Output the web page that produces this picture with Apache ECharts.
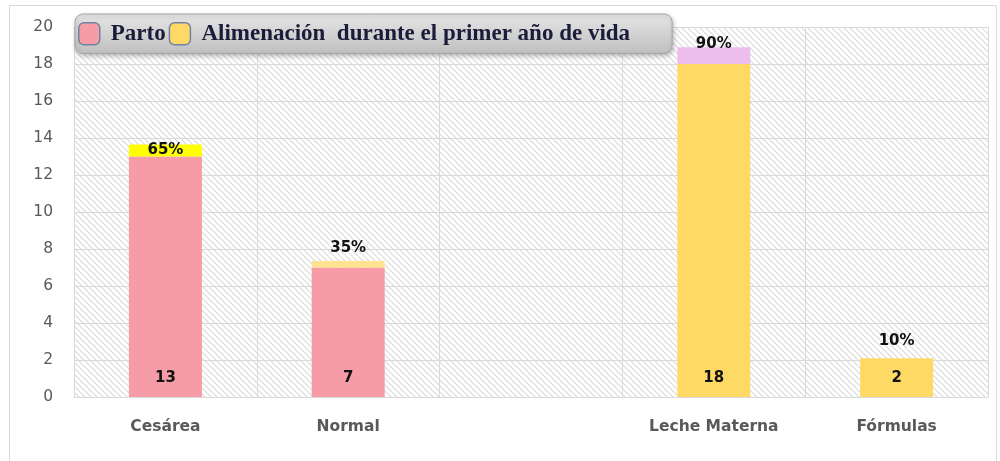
<!DOCTYPE html>
<html>
<head>
<meta charset="utf-8">
<script src="https://cdn.jsdelivr.net/npm/echarts@6/dist/echarts.min.js"></script>
<style>
html,body{margin:0;padding:0;background:#fff;}
#chart{width:1000px;height:461px;}
</style>
</head>
<body>
<div id="chart"></div>
<script>
const categories = ['Cesárea', 'Normal', '', 'Leche Materna', 'Fórmulas'];
const partoValues = [13, 7, '-', '-', '-'];
const alimentacionValues = ['-', '-', '-', 18, 2];
const capValues = [0.65, 0.35, '-', 0.9, 0.1];
const percentLabels = ['65%', '35%', '', '90%', '10%'];
const yTicks = [0, 2, 4, 6, 8, 10, 12, 14, 16, 18, 20];
const legendNames = ['Parto', 'Alimenación  durante el primer año de vida'];

// styling (not data)
const capColors = ['#FFFF00', '#FFE38F', '#FFFFFF', '#EDBDED', '#FFD966'];
const capLabelLayout = [
  {position: 'inside'},
  {position: 'top', distance: 5},
  {position: 'top', distance: 5},
  {position: 'top', distance: -4},
  {position: 'top', distance: 10}
];

function hatch() {
  const c = document.createElement('canvas');
  const s = 6;
  c.width = s; c.height = s;
  const g = c.getContext('2d');
  g.fillStyle = '#ffffff';
  g.fillRect(0, 0, s, s);
  g.strokeStyle = '#d9d9d9';
  g.lineWidth = 1.1;
  g.beginPath();
  g.moveTo(-1, -1); g.lineTo(s + 1, s + 1);
  g.moveTo(-1, s - 1); g.lineTo(1, s + 1);
  g.moveTo(s - 1, -1); g.lineTo(s + 1, 1);
  g.stroke();
  return c;
}

const chart = echarts.init(document.getElementById('chart'), null, {renderer: 'canvas'});
const labelFont = {fontFamily: 'DejaVu Sans', fontWeight: 'bold', fontSize: 15, color: '#111'};

const option = {
  animation: false,
  backgroundColor: '#ffffff',
  graphic: [{
    type: 'rect', z: -10, silent: true,
    shape: {x: 9.5, y: 5.5, width: 987, height: 470},
    style: {fill: 'none', stroke: '#d9d9d9', lineWidth: 1}
  }],
  grid: {
    left: 74, right: 12, top: 27, bottom: 64,
    show: true,
    backgroundColor: {image: hatch(), repeat: 'repeat'},
    borderWidth: 0
  },
  legend: {
    data: legendNames,
    left: 75, top: 14,
    padding: [8, 42, 8, 3],
    itemGap: 3,
    itemWidth: 21, itemHeight: 22,
    icon: 'roundRect',
    backgroundColor: {
      type: 'linear', x: 0, y: 0, x2: 0, y2: 1,
      colorStops: [{offset: 0, color: '#e6e6e6'}, {offset: 1, color: '#bfbfbf'}]
    },
    borderColor: '#a6a6a6', borderWidth: 1, borderRadius: 8,
    shadowColor: 'rgba(0,0,0,0.25)', shadowBlur: 4, shadowOffsetX: 1, shadowOffsetY: 2,
    itemStyle: {borderColor: '#6f84a3', borderWidth: 1.5},
    textStyle: {
      fontFamily: 'Liberation Serif', fontWeight: 'bold', fontSize: 23,
      color: '#1b1b3a', padding: [0, 0, 0, 6]
    }
  },
  xAxis: {
    type: 'category',
    data: categories,
    boundaryGap: true,
    axisLine: {show: true, lineStyle: {color: '#d9d9d9'}},
    axisTick: {show: false},
    splitLine: {show: true, lineStyle: {color: '#d9d9d9', width: 1}},
    axisLabel: {
      margin: 22, fontFamily: 'DejaVu Sans', fontWeight: 'bold',
      fontSize: 15.5, color: '#595959', interval: 0
    }
  },
  yAxis: {
    type: 'value',
    min: yTicks[0], max: yTicks[yTicks.length - 1], interval: yTicks[1] - yTicks[0],
    axisLine: {show: false},
    axisTick: {show: false},
    splitLine: {show: true, lineStyle: {color: '#d9d9d9', width: 1}},
    axisLabel: {margin: 21, fontFamily: 'DejaVu Sans', fontSize: 15.5, color: '#595959'}
  },
  series: [
    {
      name: legendNames[0], type: 'bar', stack: 'a', barWidth: 73,
      data: partoValues,
      itemStyle: {color: '#F59CA7'},
      label: Object.assign({show: true, position: 'insideBottom', distance: 11}, labelFont)
    },
    {
      name: legendNames[1], type: 'bar', stack: 'a', barWidth: 73,
      data: alimentacionValues,
      itemStyle: {color: '#FFD966'},
      label: Object.assign({show: true, position: 'insideBottom', distance: 11}, labelFont)
    },
    {
      name: 'cap', type: 'bar', stack: 'a', barWidth: 73,
      data: capValues.map((v, i) => ({
        value: v,
        itemStyle: {color: capColors[i]},
        label: Object.assign({show: v !== '-', formatter: () => percentLabels[i]}, labelFont, capLabelLayout[i])
      }))
    }
  ]
};
chart.setOption(option);
</script>
</body>
</html>
